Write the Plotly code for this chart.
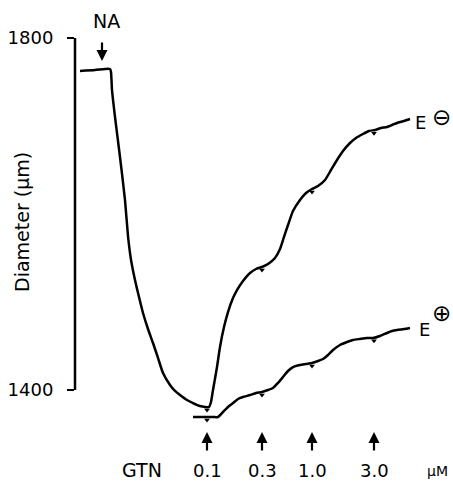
import numpy as np
import plotly.graph_objects as go

# ---- data (time in arbitrary units, diameter in µm) ----
t_eminus = [5, 20, 30, 35, 36, 37, 40, 45, 50, 53, 56, 60, 64, 68, 73, 78, 83, 88, 95, 100,
            105, 112, 118, 125, 130, 134, 136, 138, 142, 145, 149, 153, 158, 162, 168, 175,
            181, 187, 193, 200, 205, 209, 213, 218, 225, 231, 237, 243, 250, 256, 262, 268,
            275, 281, 288, 294, 300, 306, 312, 317, 322, 329, 335]
d_eminus = [1762.5, 1763.6, 1764.8, 1764.8, 1761.4, 1740.9, 1710.2, 1664.8, 1615.9, 1575.0,
            1548.0, 1525.0, 1505.7, 1487.5, 1469.3, 1453.4, 1436.4, 1419.3, 1405.7, 1398.9,
            1394.3, 1388.6, 1385.2, 1381.8, 1380.7, 1380.7, 1386.4, 1400.0, 1426.1, 1448.9,
            1471.6, 1488.6, 1504.5, 1513.6, 1523.9, 1533.0, 1537.5, 1539.8, 1543.2, 1550.0,
            1560.2, 1573.9, 1587.5, 1603.4, 1615.9, 1623.9, 1628.4, 1631.8, 1638.6, 1650.0,
            1661.4, 1671.6, 1680.7, 1686.4, 1690.9, 1694.3, 1695.5, 1697.7, 1698.9, 1701.1,
            1703.4, 1705.7, 1708.0]

t_eplus = [118, 125, 132, 138, 143, 148, 153, 158, 163, 168, 175, 181, 187, 193, 198, 203,
           208, 213, 218, 225, 231, 237, 243, 248, 253, 258, 265, 272, 278, 285, 292, 298,
           305, 312, 317, 322, 329, 335]
d_eplus = [1369.3, 1369.3, 1369.3, 1369.3, 1369.3, 1375.0, 1380.7, 1385.2, 1389.8, 1392.0,
           1394.3, 1396.6, 1397.7, 1400.0, 1402.3, 1408.0, 1414.8, 1421.6, 1426.1, 1428.4,
           1429.5, 1430.7, 1432.9, 1435.2, 1439.8, 1445.5, 1451.1, 1454.5, 1456.8, 1458.0,
           1459.1, 1459.1, 1461.4, 1464.8, 1467.0, 1468.2, 1469.3, 1470.5]

gtn_times = [132, 187, 237, 299]
gtn_labels = ["0.1", "0.3", "1.0", "3.0"]
na_time = 27
y_ticks = [1400, 1800]

# ---- layout constants ----
W, H = 453, 483
ML = 75
y_lo, y_hi = 1294.32, 1843.18
x_lo, x_hi = 0, W - ML
FONT = "DejaVu Sans"
LW = 2.5


def py(p):
    """pixel row -> paper y"""
    return 1 - p / H


def px(p):
    """pixel column -> paper x"""
    return (p - ML) / (W - ML)


fig = go.Figure()
for t, d in [(t_eminus, d_eminus), (t_eplus, d_eplus)]:
    fig.add_trace(go.Scatter(x=t, y=d, mode="lines",
                             line=dict(color="black", width=LW, shape="spline", smoothing=0.5),
                             hoverinfo="skip", showlegend=False))

# notches at each GTN addition
px_um = (y_hi - y_lo) / H
for t, d in [(t_eminus, d_eminus), (t_eplus, d_eplus)]:
    yv = np.interp(gtn_times, t, d) - 3 * px_um
    fig.add_trace(go.Scatter(x=gtn_times, y=yv, mode="markers",
                             marker=dict(symbol="triangle-down", size=5, color="black"),
                             hoverinfo="skip", showlegend=False))

fig.update_layout(
    width=W, height=H,
    margin=dict(l=ML, r=0, t=0, b=0),
    plot_bgcolor="white", paper_bgcolor="white",
    xaxis=dict(range=[x_lo, x_hi], visible=False, fixedrange=True),
    yaxis=dict(range=[y_lo, y_hi], showgrid=False, zeroline=False, showline=False,
               fixedrange=True,
               tickvals=y_ticks, ticktext=[str(v) for v in y_ticks],
               ticks="outside", ticklen=7, tickwidth=2.2, tickcolor="black",
               ticklabelstandoff=10,
               tickfont=dict(family=FONT, size=18, color="black")),
    font=dict(family=FONT, color="black"),
)

# y axis line spanning only the tick range
fig.add_shape(type="line", xref="paper", yref="y", x0=0, x1=0,
              y0=min(y_ticks), y1=max(y_ticks),
              line=dict(color="black", width=LW))


def label(text, x, y, size, xref="paper", **kw):
    return dict(text=text, xref=xref, yref="paper", x=x, y=y, showarrow=False,
                xanchor="center", yanchor="middle", font=dict(size=size), **kw)


def arrow(x, y, ay):
    return dict(text="", xref="x", yref="paper", x=x, y=y, ax=0, ay=ay,
                showarrow=True, arrowhead=2, arrowsize=1, arrowwidth=2.2,
                arrowcolor="black", standoff=0)


ann = []
ann.append(label("Diameter (μm)", px(22), py(222), 19, textangle=-90))
ann.append(label("NA", na_time + 4, py(21), 19, xref="x"))
ann.append(arrow(na_time, py(61), -20))
for t, lab in zip(gtn_times, gtn_labels):
    ann.append(arrow(t, py(432), 20))
    ann.append(label(lab, t, py(470), 18, xref="x"))
ann.append(label("GTN", px(142), py(470), 19))
ann.append(label("μM", px(437), py(471), 14))
ann.append(label("E", px(420), py(122), 18))
ann.append(label("⊖", px(441), py(117), 23))
ann.append(label("E", px(424), py(329), 18))
ann.append(label("⊕", px(441), py(313), 23))
fig.update_layout(annotations=ann)

fig.write_html("out.html", config={"displayModeBar": False},
               post_script="document.body.style.margin='0px';")
